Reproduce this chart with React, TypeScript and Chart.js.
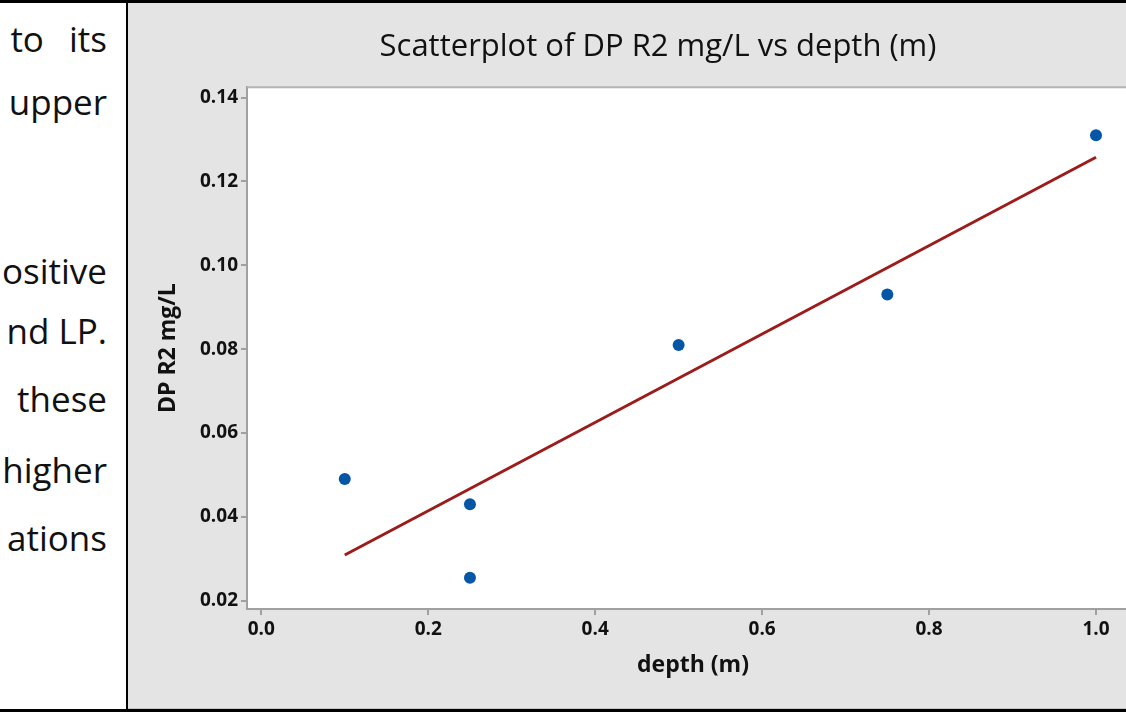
import React, { useEffect, useRef } from "react";
import { Chart, registerables } from "chart.js";

Chart.register(...registerables);

const depth = [0.1, 0.25, 0.25, 0.5, 0.75, 1.0];
const dpR2 = [0.049, 0.043, 0.0255, 0.081, 0.093, 0.131];
const xTicks = [0.0, 0.2, 0.4, 0.6, 0.8, 1.0];
const yTicks = [0.02, 0.04, 0.06, 0.08, 0.1, 0.12, 0.14];
const titleText = "Scatterplot of DP R2 mg/L vs depth (m)";
const xTitle = "depth (m)";
const yTitle = "DP R2 mg/L";
const sideLines = ["to its", "upper", "ositive", "nd LP.", "these", "higher", "ations"];
const sideBaselines = [55, 118, 287, 347, 415, 486, 554];
const sideWordSpacing = [16, 0, 0, 0, 0, 0, 0];

function fitLine(xs: number[], ys: number[]) {
  const n = xs.length;
  const mx = xs.reduce((a, b) => a + b, 0) / n;
  const my = ys.reduce((a, b) => a + b, 0) / n;
  let sxx = 0;
  let sxy = 0;
  for (let i = 0; i < n; i++) {
    sxx += (xs[i] - mx) ** 2;
    sxy += (xs[i] - mx) * (ys[i] - my);
  }
  const b = sxy / sxx;
  const a = my - b * mx;
  const x0 = Math.min(...xs);
  const x1 = Math.max(...xs);
  return [
    { x: x0, y: a + b * x0 },
    { x: x1, y: a + b * x1 },
  ];
}

const plotFrame = {
  id: "plotFrame",
  afterLayout(chart: any) {
    const t = chart.titleBlock;
    if (t) {
      t.left = 0;
      t.right = 1060;
      t.width = 1060;
    }
  },
  beforeDraw(chart: any) {
    const { ctx, chartArea } = chart;
    ctx.save();
    ctx.fillStyle = "#ffffff";
    ctx.fillRect(chartArea.left, chartArea.top, chartArea.right - chartArea.left, chartArea.bottom - chartArea.top);
    ctx.restore();
  },
  afterDraw(chart: any) {
    const { ctx, chartArea } = chart;
    ctx.save();
    ctx.strokeStyle = "#b4b4b4";
    ctx.lineWidth = 2;
    ctx.beginPath();
    ctx.moveTo(chartArea.left, chartArea.top);
    ctx.lineTo(chartArea.right, chartArea.top);
    ctx.lineTo(chartArea.right, chartArea.bottom);
    ctx.stroke();
    ctx.restore();
  },
};

export default function App() {
  const ref = useRef<HTMLCanvasElement>(null);

  useEffect(() => {
    if (!ref.current) return;
    const points = depth.map((x, i) => ({ x, y: dpR2[i] }));
    const chart = new Chart(ref.current, {
      type: "scatter",
      data: {
        datasets: [
          {
            data: points,
            backgroundColor: "#0656a8",
            borderColor: "#0656a8",
            pointRadius: 6,
            pointHoverRadius: 6,
            borderWidth: 0,
          },
          {
            data: fitLine(depth, dpR2),
            showLine: true,
            borderColor: "#9c1c1c",
            borderWidth: 3,
            pointRadius: 0,
            fill: false,
          } as any,
        ],
      },
      options: {
        animation: false,
        responsive: false,
        layout: { padding: { left: 0, right: 98, top: 0, bottom: 0 } },
        plugins: {
          legend: { display: false },
          tooltip: { enabled: false },
          title: {
            display: true,
            text: titleText,
            color: "#111111",
            font: { family: "'Open Sans', sans-serif", size: 31, weight: "normal" },
            padding: { top: 26, bottom: 21 },
          },
        },
        scales: {
          x: {
            type: "linear",
            min: -0.0171,
            max: 1.0515,
            afterBuildTicks: (s: any) => {
              s.ticks = xTicks.map((v) => ({ value: v }));
            },
            afterFit: (s: any) => {
              s.height = 100;
            },
            grid: { drawOnChartArea: false, drawTicks: true, tickLength: 6, color: "#a0a0a0", lineWidth: 2 },
            border: { display: true, color: "#a0a0a0", width: 2 },
            ticks: {
              color: "#111111",
              padding: 3,
              maxRotation: 0,
              font: { family: "'Open Sans', sans-serif", size: 19, weight: "bold" },
              callback: (v: any) => Number(v).toFixed(1),
            },
            title: {
              display: true,
              text: xTitle,
              color: "#111111",
              font: { family: "'Open Sans', sans-serif", size: 23, weight: "bold" },
              padding: { top: 0, bottom: 30 },
            },
          },
          y: {
            type: "linear",
            min: 0.01802,
            max: 0.14246,
            afterBuildTicks: (s: any) => {
              s.ticks = yTicks.map((v) => ({ value: v }));
            },
            afterFit: (s: any) => {
              s.width = 119;
            },
            grid: { drawOnChartArea: false, drawTicks: true, tickLength: 6, color: "#a0a0a0", lineWidth: 2 },
            border: { display: true, color: "#a0a0a0", width: 2 },
            ticks: {
              color: "#111111",
              padding: 3,
              font: { family: "'Open Sans', sans-serif", size: 19, weight: "bold" },
              callback: (v: any) => Number(v).toFixed(2),
            },
            title: {
              display: true,
              text: yTitle,
              color: "#111111",
              font: { family: "'Open Sans', sans-serif", size: 23, weight: "bold" },
              padding: { top: 27, bottom: 0 },
            },
          },
        },
      },
      plugins: [plotFrame],
    });
    return () => chart.destroy();
  }, []);

  return (
    <div
      style={{
        position: "absolute",
        left: 0,
        top: 0,
        width: 1126,
        height: 723,
        overflow: "hidden",
        background: "#ffffff",
      }}
    >
      <div
        style={{
          position: "absolute",
          left: 0,
          top: 0,
          width: 126,
          height: 709,
          overflow: "hidden",
          fontFamily: "'Open Sans', sans-serif",
          fontSize: 35,
          color: "#111111",
        }}
      >
        {sideLines.map((t, i) => (
          <div
            key={i}
            style={{
              position: "absolute",
              right: 19,
              top: sideBaselines[i] - 36,
              lineHeight: "40px",
              whiteSpace: "nowrap",
              wordSpacing: sideWordSpacing[i],
            }}
          >
            {t}
          </div>
        ))}
      </div>
      <div
        style={{
          position: "absolute",
          left: 128,
          top: 3,
          width: 998,
          height: 706,
          background: "#e4e4e4",
          overflow: "hidden",
          borderBottom: "1px solid #c4c4c4",
          boxSizing: "border-box",
        }}
      >
        <canvas ref={ref} width={1109} height={706} style={{ display: "block", width: 1109, height: 706 }} />
      </div>
      <div style={{ position: "absolute", left: 0, top: 0, width: 1126, height: 3, background: "#000" }} />
      <div style={{ position: "absolute", left: 126, top: 0, width: 2, height: 712, background: "#000" }} />
      <div style={{ position: "absolute", left: 0, top: 709, width: 1126, height: 3, background: "#000" }} />
    </div>
  );
}
